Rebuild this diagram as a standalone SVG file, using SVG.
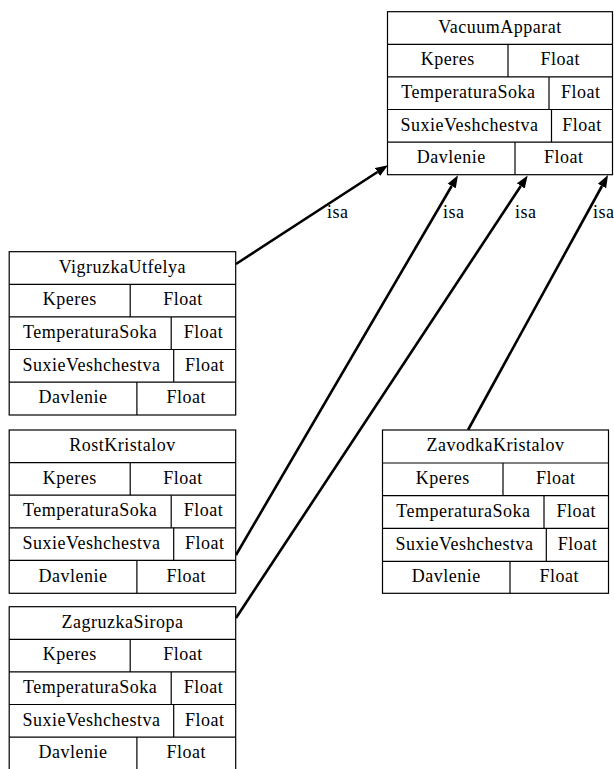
<svg xmlns="http://www.w3.org/2000/svg" width="614" height="769" viewBox="0 0 614 769">
<defs>
<style>
.box{fill:#ffffff;stroke:#000000;stroke-width:1.2}
.div{stroke:#000000;stroke-width:1.2}
text{font-family:"Liberation Serif","Times New Roman",serif;font-size:18px;fill:#000000;letter-spacing:0.5px}
.c{text-anchor:middle}
.edge{fill:none;stroke:#000000;stroke-width:2.6}
</style>
<marker id="arr" markerUnits="userSpaceOnUse" markerWidth="13" markerHeight="11" refX="0" refY="5.5" orient="auto">
<path d="M0,0.8 L12.5,5.5 L0,10.2 z" fill="#000000"/>
</marker>
</defs>
<rect width="614" height="769" fill="#ffffff"/>

<g id="connectors">
<path class="edge" d="M236,264 C285,232 333,201 377.5,172" marker-end="url(#arr)"/>
<text x="327" y="218">isa</text>
<path class="edge" d="M236,555 L451.7,186" marker-end="url(#arr)"/>
<text x="443" y="218">isa</text>
<path class="edge" d="M236,618 L520.8,186" marker-end="url(#arr)"/>
<text x="515" y="218">isa</text>
<path class="edge" d="M468,430 L602,186" marker-end="url(#arr)"/>
<text x="593" y="218">isa</text>
</g>

<g id="VacuumApparat" transform="translate(387.5,11.7)">
<rect class="box" x="0" y="0" width="225" height="163"/>
<line class="div" x1="0" y1="32.6" x2="225" y2="32.6"/>
<line class="div" x1="0" y1="65.2" x2="225" y2="65.2"/>
<line class="div" x1="0" y1="97.8" x2="225" y2="97.8"/>
<line class="div" x1="0" y1="130.4" x2="225" y2="130.4"/>
<line class="div" x1="120.5" y1="32.6" x2="120.5" y2="65.2"/>
<line class="div" x1="161.5" y1="65.2" x2="161.5" y2="97.8"/>
<line class="div" x1="164" y1="97.8" x2="164" y2="130.4"/>
<line class="div" x1="127.5" y1="130.4" x2="127.5" y2="163"/>
<text class="c" x="112.5" y="21">VacuumApparat</text>
<text class="c" x="60.3" y="53.8">Kperes</text>
<text class="c" x="172.8" y="53.8">Float</text>
<text class="c" x="80.8" y="86.4">TemperaturaSoka</text>
<text class="c" x="193.3" y="86.4">Float</text>
<text class="c" x="82" y="119">SuxieVeshchestva</text>
<text class="c" x="194.5" y="119">Float</text>
<text class="c" x="63.8" y="151.6">Davlenie</text>
<text class="c" x="176.3" y="151.6">Float</text>
</g>

<g id="VigruzkaUtfelya" transform="translate(9.2,251.7)">
<rect class="box" x="0" y="0" width="226.5" height="163.3"/>
<line class="div" x1="0" y1="32.6" x2="226.5" y2="32.6"/>
<line class="div" x1="0" y1="65.2" x2="226.5" y2="65.2"/>
<line class="div" x1="0" y1="97.8" x2="226.5" y2="97.8"/>
<line class="div" x1="0" y1="130.4" x2="226.5" y2="130.4"/>
<line class="div" x1="121" y1="32.6" x2="121" y2="65.2"/>
<line class="div" x1="162" y1="65.2" x2="162" y2="97.8"/>
<line class="div" x1="164.5" y1="97.8" x2="164.5" y2="130.4"/>
<line class="div" x1="127.7" y1="130.4" x2="127.7" y2="163.3"/>
<text class="c" x="113.2" y="21">VigruzkaUtfelya</text>
<text class="c" x="60.5" y="53.8">Kperes</text>
<text class="c" x="173.7" y="53.8">Float</text>
<text class="c" x="81" y="86.4">TemperaturaSoka</text>
<text class="c" x="194.2" y="86.4">Float</text>
<text class="c" x="82.2" y="119">SuxieVeshchestva</text>
<text class="c" x="195.5" y="119">Float</text>
<text class="c" x="63.8" y="151.8">Davlenie</text>
<text class="c" x="177" y="151.8">Float</text>
</g>

<g id="RostKristalov" transform="translate(9.2,430)">
<rect class="box" x="0" y="0" width="226.5" height="163.3"/>
<line class="div" x1="0" y1="32.6" x2="226.5" y2="32.6"/>
<line class="div" x1="0" y1="65.2" x2="226.5" y2="65.2"/>
<line class="div" x1="0" y1="97.8" x2="226.5" y2="97.8"/>
<line class="div" x1="0" y1="130.4" x2="226.5" y2="130.4"/>
<line class="div" x1="121" y1="32.6" x2="121" y2="65.2"/>
<line class="div" x1="162" y1="65.2" x2="162" y2="97.8"/>
<line class="div" x1="164.5" y1="97.8" x2="164.5" y2="130.4"/>
<line class="div" x1="127.7" y1="130.4" x2="127.7" y2="163.3"/>
<text class="c" x="113.2" y="21">RostKristalov</text>
<text class="c" x="60.5" y="53.8">Kperes</text>
<text class="c" x="173.7" y="53.8">Float</text>
<text class="c" x="81" y="86.4">TemperaturaSoka</text>
<text class="c" x="194.2" y="86.4">Float</text>
<text class="c" x="82.2" y="119">SuxieVeshchestva</text>
<text class="c" x="195.5" y="119">Float</text>
<text class="c" x="63.8" y="151.8">Davlenie</text>
<text class="c" x="177" y="151.8">Float</text>
</g>

<g id="ZagruzkaSiropa" transform="translate(9.2,606.7)">
<rect class="box" x="0" y="0" width="226.5" height="163.3"/>
<line class="div" x1="0" y1="32.6" x2="226.5" y2="32.6"/>
<line class="div" x1="0" y1="65.2" x2="226.5" y2="65.2"/>
<line class="div" x1="0" y1="97.8" x2="226.5" y2="97.8"/>
<line class="div" x1="0" y1="130.4" x2="226.5" y2="130.4"/>
<line class="div" x1="121" y1="32.6" x2="121" y2="65.2"/>
<line class="div" x1="162" y1="65.2" x2="162" y2="97.8"/>
<line class="div" x1="164.5" y1="97.8" x2="164.5" y2="130.4"/>
<line class="div" x1="127.7" y1="130.4" x2="127.7" y2="163.3"/>
<text class="c" x="113.2" y="21">ZagruzkaSiropa</text>
<text class="c" x="60.5" y="53.8">Kperes</text>
<text class="c" x="173.7" y="53.8">Float</text>
<text class="c" x="81" y="86.4">TemperaturaSoka</text>
<text class="c" x="194.2" y="86.4">Float</text>
<text class="c" x="82.2" y="119">SuxieVeshchestva</text>
<text class="c" x="195.5" y="119">Float</text>
<text class="c" x="63.8" y="151.8">Davlenie</text>
<text class="c" x="177" y="151.8">Float</text>
</g>

<g id="ZavodkaKristalov" transform="translate(382.5,430)">
<rect class="box" x="0" y="0" width="226" height="163.3"/>
<line class="div" x1="0" y1="33" x2="226" y2="33"/>
<line class="div" x1="0" y1="65.7" x2="226" y2="65.7"/>
<line class="div" x1="0" y1="98.3" x2="226" y2="98.3"/>
<line class="div" x1="0" y1="131.4" x2="226" y2="131.4"/>
<line class="div" x1="120.5" y1="33" x2="120.5" y2="65.7"/>
<line class="div" x1="161.5" y1="65.7" x2="161.5" y2="98.3"/>
<line class="div" x1="163.8" y1="98.3" x2="163.8" y2="131.4"/>
<line class="div" x1="127.5" y1="131.4" x2="127.5" y2="163.3"/>
<text class="c" x="113" y="21">ZavodkaKristalov</text>
<text class="c" x="60.3" y="54.2">Kperes</text>
<text class="c" x="173.2" y="54.2">Float</text>
<text class="c" x="80.8" y="86.9">TemperaturaSoka</text>
<text class="c" x="193.8" y="86.9">Float</text>
<text class="c" x="82" y="119.6">SuxieVeshchestva</text>
<text class="c" x="195" y="119.6">Float</text>
<text class="c" x="63.8" y="152.3">Davlenie</text>
<text class="c" x="176.8" y="152.3">Float</text>
</g>
</svg>
